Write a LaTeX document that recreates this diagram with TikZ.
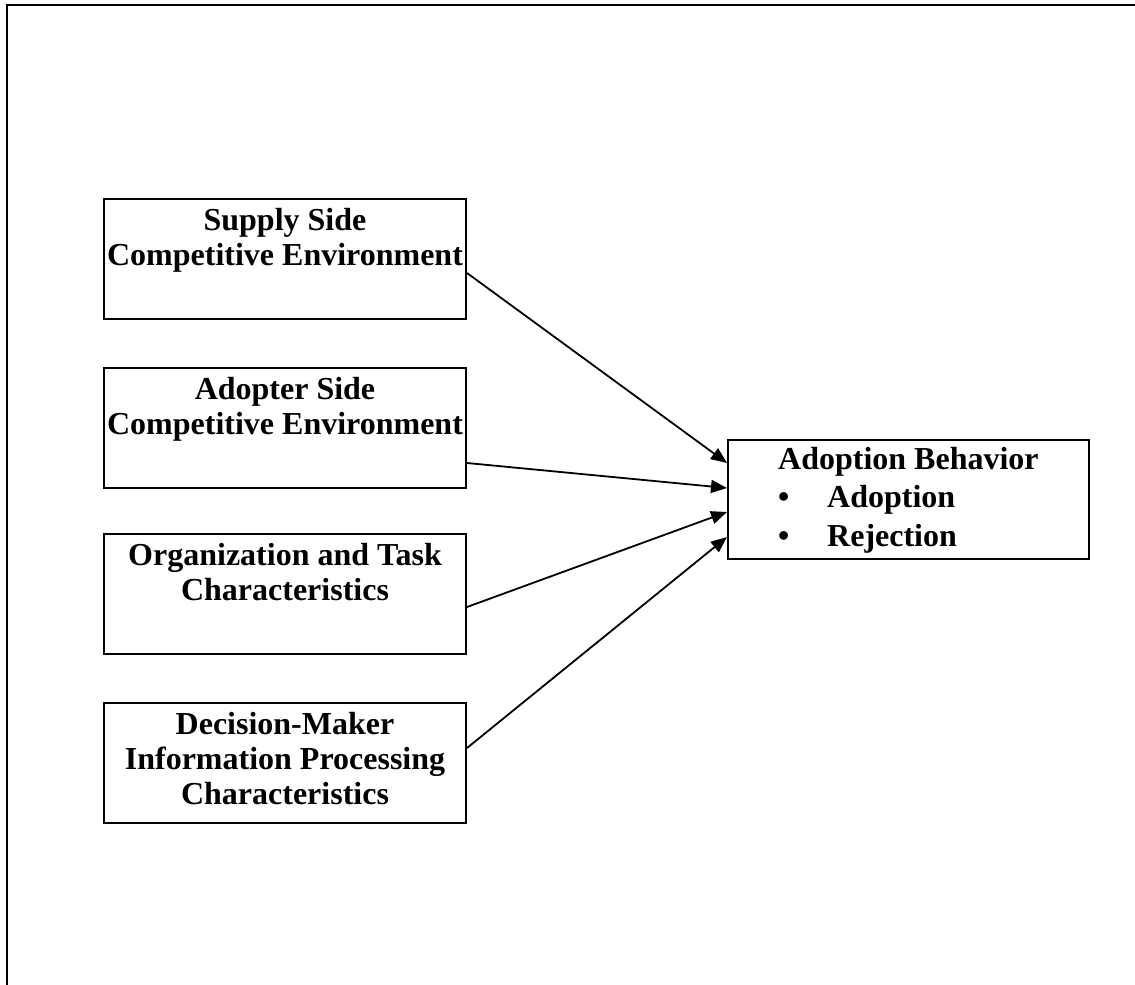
\documentclass[tikz,border=0pt]{standalone}
\usepackage{fontspec}
\setmainfont{Liberation Serif}
\usetikzlibrary{arrows.meta}

\tikzset{
  factorbox/.style={draw=black, line width=2pt, minimum width=362pt, minimum height=120pt, inner sep=0pt},
  boxtext/.style={inner sep=0pt, align=center, anchor=north, font=\bfseries\fontsize{32}{35}\selectfont},
  listtext/.style={inner sep=0pt, align=left, anchor=north west, font=\bfseries\fontsize{32}{38.5}\selectfont},
  influence/.style={line width=1.8pt, -{Triangle[length=16pt,width=13pt]}},
  frameline/.style={line width=2.2pt}
}

\begin{document}
\begin{tikzpicture}[x=1pt, y=-1pt]
  \useasboundingbox (0,0) rectangle (1135,985);

  % open frame: top and left edges only
  \coordinate (frameTR) at (1135,5);
  \coordinate (frameTL) at (7,5);
  \coordinate (frameBL) at (7,985);
  \draw[frameline] (frameTR) -- (frameTL) -- (frameBL);

  % factor boxes
  \node[factorbox] (s1) at (285,258.5) {};
  \node[boxtext] (s1t) at (285,208) {Supply Side\\Competitive Environment};

  \node[factorbox] (s2) at (285,428) {};
  \node[boxtext] (s2t) at (285,377) {Adopter Side\\Competitive Environment};

  \node[factorbox] (s3) at (285,594) {};
  \node[boxtext] (s3t) at (285,543) {Organization and Task\\Characteristics};

  \node[factorbox] (s4) at (285,763) {};
  \node[boxtext] (s4t) at (285,712) {Decision-Maker\\Information Processing\\Characteristics};

  % outcome box
  \node[factorbox, minimum width=361pt, minimum height=119pt] (ab) at (908.5,499.5) {};
  \node[listtext] (abt) at (778,447) {Adoption Behavior\\
    \makebox[49pt][l]{•}Adoption\\
    \makebox[49pt][l]{•}Rejection};

  % influences
  \draw[influence] ([yshift=-14.5pt]s1.east) -- ([yshift=36.5pt]ab.west);
  \draw[influence] ([yshift=-35pt]s2.east) -- ([yshift=11.5pt]ab.west);
  \draw[influence] ([yshift=-13pt]s3.east) -- ([yshift=-12.5pt]ab.west);
  \draw[influence] ([yshift=15pt]s4.east) -- ([yshift=-37.5pt]ab.west);
\end{tikzpicture}
\end{document}
